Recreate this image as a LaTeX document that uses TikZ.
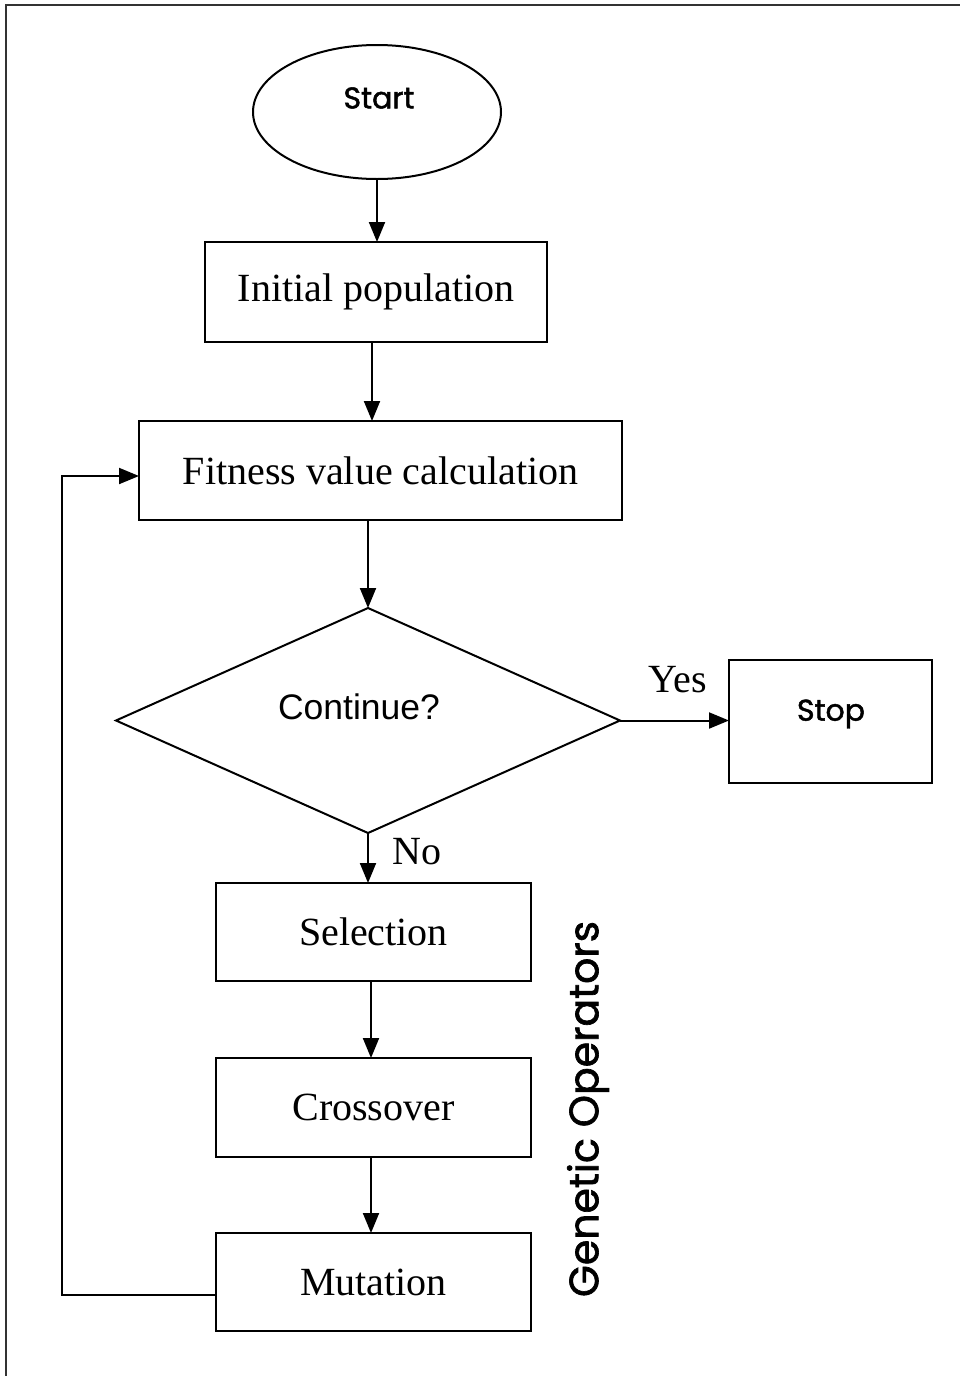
\documentclass[tikz,border=0pt]{standalone}
\usepackage{fontspec}
\setmainfont{Liberation Serif}
\newfontfamily\geofont[FakeBold=1.6]{Poppins}
\newfontfamily\arialfont{Liberation Sans}
\usetikzlibrary{shapes.geometric,arrows.meta}
\begin{document}
\begin{tikzpicture}[x=1pt,y=-1pt,
  every node/.style={inner sep=0pt,outer sep=0pt},
  procbox/.style={draw,line width=2pt,font=\fontsize{40}{44}\selectfont},
  flow/.style={line width=2pt,-{Triangle[length=20pt,width=16pt]}},
  lbl/.style={font=\fontsize{40}{44}\selectfont}]
\useasboundingbox (0,0) rectangle (960,1376);
% open frame along the top and left edges
\draw[line width=1.2pt,black!80] (6,1376) -- (6,5) -- (960,5);
% terminals
\node[draw,line width=2pt,ellipse,minimum width=248pt,minimum height=134pt] (start) at (377,112) {};
\node[font=\geofont\fontsize{30}{34}\selectfont] at (379,98) {Start};
\node[draw,line width=2pt,minimum width=203pt,minimum height=123pt] (stop) at (830.5,721.5) {};
\node[font=\geofont\fontsize{30}{34}\selectfont] at (831,714) {Stop};
% process boxes
\node[procbox,minimum width=342pt,minimum height=100pt] (init) at (376,292) {Initial population};
\node[procbox,minimum width=483pt,minimum height=99pt] (fit) at (380.5,470.5) {Fitness value calculation};
\node[procbox,minimum width=315pt,minimum height=98pt] (sel) at (373.5,932) {Selection};
\node[procbox,minimum width=315pt,minimum height=99pt] (cross) at (373.5,1107.5) {Crossover};
\node[procbox,minimum width=315pt,minimum height=98pt] (mut) at (373.5,1282) {Mutation};
% decision
\node[draw,line width=2pt,diamond,minimum width=504pt,minimum height=225pt] (dec) at (368,720.5) {};
\node[font=\arialfont\fontsize{35.5}{40}\selectfont] at (359,707) {Continue?};
% connectors
\draw[flow] (start.south) -- (start.south |- init.north);
\draw[flow] (372,342) -- (372,421);
\draw[flow] (fit.south -| dec.north) -- (dec.north);
\draw[flow] (dec.east) -- (stop.west |- dec.east);
\draw[flow] (dec.south) -- (dec.south |- sel.north);
\draw[flow] (sel.south -| 371,0) -- (371,1058);
\draw[flow] (cross.south -| 371,0) -- (371,1233);
\coordinate (loopb) at (62,1295);
\coordinate (loopt) at (62,476);
\draw[flow] (mut.west |- loopb) -- (loopb) -- (loopt) -- (fit.west |- loopt);
% branch labels
\node[lbl] at (678,680) {Yes};
\node[lbl] at (417,852) {No};
% group label
\node[rotate=90,font=\geofont\fontsize{41}{46}\selectfont] at (588,1109) {Genetic Operators};
\end{tikzpicture}
\end{document}
